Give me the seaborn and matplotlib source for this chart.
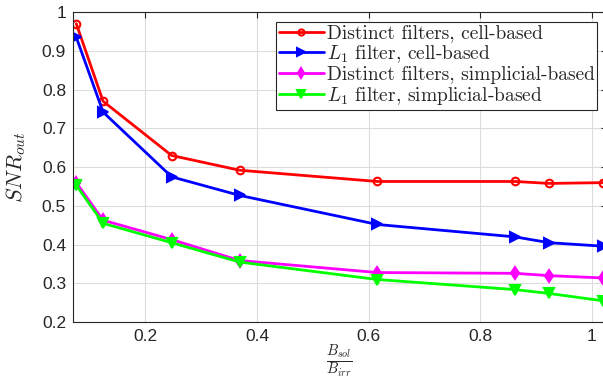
import numpy as np
import pandas as pd
import matplotlib
matplotlib.use("Agg")
import matplotlib.pyplot as plt
import seaborn as sns

# ratio B_sol / B_irr
ratio = [0.076, 0.124, 0.247, 0.369, 0.616, 0.863, 0.924, 1.021]

distinct_cell = [0.970, 0.770, 0.630, 0.592, 0.563, 0.563, 0.558, 0.560]
l1_cell = [0.935, 0.742, 0.575, 0.527, 0.452, 0.420, 0.405, 0.396]
distinct_simp = [0.560, 0.463, 0.413, 0.359, 0.328, 0.326, 0.320, 0.314]
l1_simp = [0.553, 0.455, 0.405, 0.355, 0.310, 0.284, 0.274, 0.255]

labels = ["Distinct filters, cell-based",
          "$L_1$ filter, cell-based",
          "Distinct filters, simplicial-based",
          "$L_1$ filter, simplicial-based"]
colors = ["#ff0000", "#0000ff", "#ff00ff", "#00ff00"]
markers = ["o", ">", "d", "v"]
msizes = [5.5, 7, 6, 7]

sns.set_style("whitegrid")
plt.rcParams["mathtext.fontset"] = "cm"
plt.rcParams["font.family"] = ["Liberation Sans", "DejaVu Sans"]

fig = plt.figure(figsize=(6.03, 3.79), dpi=100)
ax = fig.add_axes([0.121, 0.150, 0.885, 0.818])

series = [distinct_cell, l1_cell, distinct_simp, l1_simp]
for vals, lab, c, m, ms in zip(series, labels, colors, markers, msizes):
    df = pd.DataFrame({"x": ratio, "y": vals})
    sns.lineplot(data=df, x="x", y="y", ax=ax, color=c, marker=m, lw=2,
                 markersize=ms,
                 markerfacecolor="none" if m == "o" else c,
                 markeredgecolor=c, markeredgewidth=1.5, label=lab)

ax.set_xlim(0.07, 1.027)
ax.set_ylim(0.2, 1.0)
ax.set_xticks([0.2, 0.4, 0.6, 0.8, 1.0])
ax.set_xticklabels(["0.2", "0.4", "0.6", "0.8", "1"])
ax.set_yticks(np.arange(0.2, 1.01, 0.1))
ax.set_yticklabels(["0.2", "0.3", "0.4", "0.5", "0.6", "0.7", "0.8", "0.9", "1"])
ax.tick_params(direction="in", length=4, labelsize=12.5, colors="#262626",
               top=True, right=True, width=0.8, pad=5)
ax.grid(True, color="#dcdcdc", lw=0.8)
for s in ax.spines.values():
    s.set_color("#262626")
    s.set_linewidth(0.8)

ax.set_xlabel(r"$\frac{B_{sol}}{B_{irr}}$", fontsize=15, labelpad=-1)
ax.set_ylabel(r"$SNR_{out}$", fontsize=16, labelpad=10)

leg = ax.legend(loc="upper right", bbox_to_anchor=(0.99, 0.982),
                prop={"family": "cmr10", "size": 14}, frameon=True,
                fancybox=False, edgecolor="#262626", framealpha=1,
                borderpad=0.15, labelspacing=0.05, handlelength=2.3,
                handletextpad=0.15, borderaxespad=0.2, markerscale=0.8)
leg.get_frame().set_linewidth(0.8)

fig.savefig("out.png", dpi=100)
